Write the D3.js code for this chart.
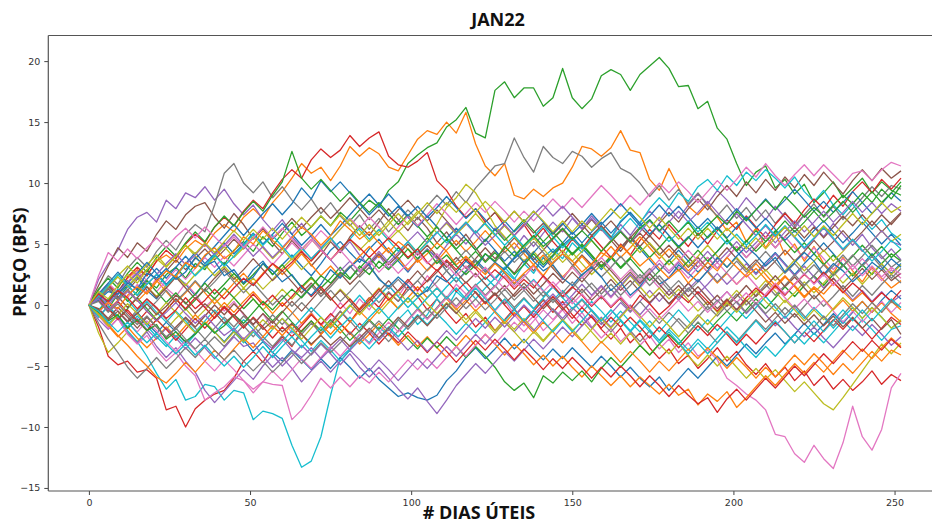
<!DOCTYPE html>
<html><head><meta charset="utf-8">
<script src="https://cdn.jsdelivr.net/npm/d3@7"></script>
<style>
html,body{margin:0;padding:0;background:#fff;}
svg{display:block;}
</style></head>
<body>
<svg id="chart" width="932" height="524"></svg>
<script>
// business days sampled every 3 days
const days = [0,3,6,9,12, 15,18,21,24,27, 30,33,36,39,42, 45,48,51,54,57, 60,63,66,69,72, 75,78,81,84,87,
 90,93,96,99,102, 105,108,111,114,117, 120,123,126,129,132, 135,138,141,144,147, 150,153,156,159,162,
 165,168,171,174,177, 180,183,186,189,192, 195,198,201,204,207, 210,213,216,219,222, 225,228,231,234,237, 240,243,246,249,252];

const xTicks = [0,50,100,150,200,250];
const yTicks = [-15,-10,-5,0,5,10,15,20];
const palette = ["#1f77b4","#ff7f0e","#2ca02c","#d62728","#9467bd","#8c564b","#e377c2","#7f7f7f","#bcbd22","#17becf"];

const run00=[0,0.7,1.4,0.6,1.5, 2.3,1.2,0.5,1.6,2.4, 1.7,0.8,1.9,2.7,3.5, 2.6,1.8,2.9,3.6,2.5, 3.3,4.1,3.2,2.4,3.4, 4.5,5.2,4.3,3.5,4.6, 5.4,4.4,3.6,2.7,3.8, 4.6,3.9,2.8,1.9,2.8, 3.7,2.9,2.1,3.0,3.9, 4.8,3.9,3.1,4.0,4.9, 5.6,4.7,3.8,2.9,3.8, 4.7,5.5,4.6,3.7,2.8, 3.6,4.5,3.6,2.7,3.5, 4.4,5.3,4.4,3.5,2.6, 3.5,4.3,3.4,2.5,3.4, 4.2,5.1,4.2,3.3,2.4, 3.3,4.2,3.3,2.6,3.4];
const run01=[0,0.8,1.5,1.1,2.2, 2.9,2.4,3.6,4.1,3.5, 4.6,5.3,4.8,5.9,6.6, 6.0,7.2,7.9,7.1,8.4, 9.3,10.4,11.6,10.8,11.3, 10.2,11.4,13.0,12.2,12.9, 12.4,11.3,11.0,12.3,13.6, 14.3,14.0,15.0,14.1,15.8, 13.2,11.4,10.6,11.6,9.0, 8.7,9.5,8.9,9.6,10.0, 11.3,13.0,12.8,12.2,12.9, 14.3,12.7,12.5,10.3,9.4, 11.2,9.6,8.1,7.4,8.3, 7.2,6.1,6.8,5.2,6.3, 4.7,5.9,4.1,5.0,3.6, 4.8,3.4,2.6,3.9,2.8, 1.9,3.1,2.2,1.4,2.0];
const run02=[0,0.6,-0.3,0.9,1.6, 0.8,2.0,1.4,2.5,3.1, 2.2,3.4,2.9,4.1,3.3, 4.5,5.2,4.4,5.6,4.8, 5.9,6.8,5.7,6.4,7.3, 6.5,7.6,6.9,7.8,8.6, 8.0,9.4,10.1,11.6,12.3, 12.9,13.3,14.6,15.2,16.2, 14.1,13.7,17.6,18.3,17.0, 17.8,17.8,16.3,17.0,19.4, 17.0,16.1,16.9,18.8,19.3, 18.9,17.6,18.9,19.6,20.3, 19.4,17.9,18.0,16.1,16.7, 14.5,13.6,11.6,9.8,10.9, 11.4,9.6,10.3,9.1,9.9, 8.4,9.2,10.1,8.8,9.6, 10.4,9.2,10.1,9.4,9.0];
const run03=[0,-1.8,-4.2,-4.9,-4.6, -5.5,-5.3,-6.0,-8.6,-8.3, -10.0,-8.5,-7.8,-7.3,-7.0, -6.0,-4.6,-3.8,-4.7,-3.5, -2.6,-3.4,-2.1,-1.3,-2.4, -1.6,-0.5,-1.4,-0.3,0.6, -0.2,1.0,0.3,1.5,0.7, -0.4,0.5,-0.6,-1.5,-0.7, -1.8,-1.0,-2.1,-1.2,-0.3, -1.4,-0.5,0.4,-0.6,0.3, -0.8,-1.7,-0.9,-2.0,-2.8, -1.9,-3.1,-2.3,-3.5,-4.4, -3.6,-4.8,-4.1,-5.2,-4.4, -3.5,-4.6,-3.8,-4.9,-5.7, -4.8,-5.9,-5.1,-6.2,-5.4, -6.6,-5.8,-6.9,-6.1,-7.0, -6.3,-5.4,-6.5,-5.7,-6.2];
const run04=[0,2.1,3.4,4.5,6.2, 7.2,7.6,6.8,8.6,7.9, 9.2,8.8,9.7,8.6,9.5, 8.3,7.4,8.2,7.0,6.1, 7.0,5.8,6.7,5.6,4.7, 5.5,4.3,5.2,4.1,3.2, 4.1,3.0,3.9,2.8,3.7, 4.6,3.8,4.9,5.8,5.0, 6.1,5.2,6.3,5.5,4.6, 5.7,4.8,5.9,6.8,6.0, 7.1,6.2,7.3,6.4,5.5, 6.6,5.7,6.8,7.7,6.9, 8.0,7.1,8.2,9.1,8.3, 9.4,8.6,7.7,8.8,7.9, 7.0,8.1,7.2,6.3,7.4, 6.5,5.6,6.7,5.8,4.9, 5.8,4.7,3.8,4.6,3.7];
const run05=[0,1.6,3.2,4.7,3.9, 5.1,4.4,5.8,6.9,6.2, 7.4,8.1,8.4,7.2,6.3, 7.5,6.6,5.4,6.3,5.1, 4.2,5.3,4.4,3.2,4.1, 5.2,4.3,5.6,6.5,5.7, 6.8,7.9,7.0,6.1,7.2, 6.3,5.1,6.0,4.9,5.8, 4.7,3.6,4.5,3.4,2.6, 3.7,2.8,3.9,3.0,2.1, 3.2,4.1,3.3,4.4,5.3, 4.4,5.5,6.4,5.6,6.7, 7.6,6.8,7.9,8.7,7.8, 8.9,9.8,8.9,10.1,9.2, 10.3,9.4,10.5,9.6,10.7, 9.8,10.9,10.0,9.1,10.2, 11.1,10.2,11.2,10.4,11.0];
const run06=[0,0.8,0.2,1.3,0.6, 1.7,1.0,2.2,1.4,0.7, 1.8,0.9,-0.2,0.6,-0.5, 0.3,-0.8,-1.6,-0.7,-1.9, -1.1,-2.3,-1.5,-0.6,-1.7, -0.9,0.2,-0.7,0.5,-0.4, 0.8,1.6,0.7,1.9,1.1, 2.4,1.5,0.6,1.7,0.9, -0.2,0.7,-0.5,0.4,-0.8, -1.7,-0.9,-2.1,-1.3,-0.4, -1.5,-0.6,-1.8,-2.7,-1.9, -3.0,-2.2,-3.3,-2.5,-3.6, -2.8,-3.9,-3.1,-4.2,-3.7, -4.5,-6.0,-6.6,-7.3,-7.8, -8.6,-10.6,-10.8,-12.2,-12.9, -11.5,-12.6,-13.4,-11.3,-8.3, -10.8,-11.9,-10.2,-6.8,-5.6];
const run07=[0,1.2,2.4,1.7,3.0, 3.9,3.1,4.4,5.3,4.5, 5.8,6.6,6.0,8.2,10.8, 11.6,10.0,9.2,10.1,8.8, 9.7,8.6,7.8,8.7,7.5, 8.4,7.3,6.5,7.4,6.2, 7.1,6.0,6.9,7.8,7.0, 8.1,9.0,8.2,9.3,8.4, 9.6,10.5,11.4,11.6,13.7, 12.1,10.9,13.0,12.1,11.6, 12.6,12.2,11.3,12.0,12.5, 11.2,10.8,10.0,8.9,9.8, 8.6,9.5,8.3,9.2,8.1, 7.3,8.2,7.1,8.0,6.9, 7.8,6.7,7.6,6.5,7.4, 8.3,7.2,8.1,7.0,7.9, 8.8,9.7,8.9,9.8,9.5];
const run08=[0,-2.3,-3.9,-3.1,-2.2, -3.0,-2.1,-1.2,-2.0,-1.1, -0.3,-1.2,-0.4,0.5,-0.3, 0.6,1.4,0.5,-0.4,0.4, 1.3,0.5,1.4,2.2,1.3, 0.4,1.3,0.5,-0.4,0.5, 1.4,0.6,-0.3,0.6,-0.2, -1.1,-0.3,0.6,-0.3,-1.2, -0.4,-1.3,-2.1,-1.2,-2.0, -1.1,-2.0,-2.9,-2.0,-1.2, -2.1,-1.3,-2.2,-3.1,-2.3, -3.2,-2.3,-3.3,-4.1,-3.2, -4.0,-3.1,-4.2,-5.0,-4.1, -5.0,-4.2,-5.1,-6.0,-5.2, -6.1,-5.3,-6.2,-7.1,-6.3, -7.2,-8.1,-8.6,-7.6,-6.5, -5.4,-4.3,-3.2,-4.0,-3.1];
const run09=[0,-0.7,-1.5,-0.9,-2.1, -3.0,-4.2,-5.6,-6.9,-6.1, -7.8,-7.5,-6.5,-6.7,-7.8, -7.0,-7.2,-9.4,-8.7,-8.9, -9.3,-11.5,-13.3,-12.8,-10.8, -7.4,-4.3,-3.6,-2.4,-3.1, -1.8,-2.5,-1.2,-0.4,-1.6, -0.8,0.5,-0.3,1.1,0.4, 1.6,2.3,1.5,2.8,2.1, 3.4,2.6,3.9,4.6,3.8, 5.1,4.3,5.6,6.4,5.5, 6.9,7.6,6.7,7.9,8.8, 8.0,9.2,8.5,9.7,10.3, 9.4,10.6,9.8,10.9,10.2, 11.1,10.4,9.6,10.5,9.3, 8.5,9.4,8.2,7.4,8.3, 7.1,6.2,7.0,5.9,5.3];
const run10=[0,-0.6,0.3,-0.5,-1.4, -0.6,-1.5,-2.3,-1.4,-2.2, -3.1,-2.3,-1.4,-2.2,-3.0, -2.1,-2.9,-3.8,-3.0,-3.9, -4.6,-3.7,-4.5,-5.3,-4.4, -5.2,-4.3,-5.1,-6.0,-5.2, -6.1,-6.8,-7.5,-7.2,-7.6, -7.8,-7.4,-6.2,-5.4,-4.3, -3.5,-4.4,-3.6,-2.7,-3.6, -2.8,-3.7,-4.5,-3.6,-4.4, -3.5,-4.3,-5.1,-4.2,-5.0, -5.9,-5.1,-6.0,-6.7,-5.9, -7.0,-6.1,-5.2,-6.0,-5.1, -4.2,-5.0,-4.1,-3.2,-4.0, -3.1,-2.3,-3.2,-2.4,-1.5, -2.4,-1.6,-0.7,-1.5,-0.6, 0.3,-0.6,0.4,1.2,0.5];
const run11=[0,-0.9,-1.7,-2.6,-1.8, -2.7,-3.5,-2.7,-1.8,-2.6, -1.7,-0.8,-1.6,-0.7,0.2, -0.6,0.3,1.1,0.2,-0.7, 0.2,-0.6,-1.5,-0.7,-1.6, -2.4,-1.5,-2.3,-3.2,-2.4, -1.5,-2.4,-3.3,-2.5,-3.4, -2.6,-3.5,-4.3,-3.4,-2.5, -3.3,-2.4,-3.2,-4.1,-3.2, -4.0,-4.9,-4.1,-5.0,-4.2, -5.1,-5.9,-5.0,-5.8,-6.6, -5.8,-6.7,-5.9,-6.6,-7.3, -6.5,-7.4,-6.9,-8.2,-7.3, -7.9,-7.1,-8.4,-7.6,-6.7, -5.8,-6.6,-5.7,-4.8,-5.6, -4.7,-5.5,-4.6,-3.7,-4.5, -3.6,-4.4,-3.5,-2.7,-3.4];
const run12=[0,0.7,-0.2,-1.1,-0.3, 0.6,-0.3,-1.2,-0.4,0.5, -0.4,0.4,1.3,0.5,1.4, 0.6,-0.3,0.5,-0.4,-1.3, -0.5,-1.4,-2.2,-1.3,-2.1, -1.2,-2.0,-2.9,-2.1,-1.2, -2.0,-1.1,-1.9,-2.8,-3.6, -2.7,-3.5,-2.6,-3.4,-4.3, -3.4,-4.2,-5.1,-6.3,-7.0, -6.4,-7.6,-5.8,-6.4,-5.5, -6.2,-5.4,-6.3,-5.2,-4.3, -5.1,-4.2,-3.3,-4.1,-3.2, -2.4,-3.2,-2.3,-1.4,-2.2, -1.3,-0.5,-1.3,-0.4,0.5, -0.3,0.6,1.5,0.7,1.6, 2.4,1.6,2.5,3.3,2.4, 3.3,2.5,3.4,4.2,3.6];
const run13=[0,0.9,1.7,1.0,2.3, 3.1,2.4,3.6,4.5,3.8, 5.0,5.8,5.1,6.4,7.2, 6.5,7.7,8.6,7.9,9.2, 10.3,11.1,10.4,11.9,12.8, 12.1,12.7,13.9,13.0,13.7, 14.2,12.2,11.5,11.3,11.8, 12.5,10.2,9.4,8.1,7.2, 7.9,6.8,7.6,6.5,5.7, 6.6,5.4,6.3,5.2,4.3, 5.4,4.6,5.7,4.8,3.9, 5.0,4.1,5.3,6.2,5.4, 6.6,5.7,4.8,5.9,5.0, 6.1,7.0,6.2,7.3,6.4, 5.5,6.6,7.5,6.7,7.8, 8.7,7.9,9.0,8.1,9.3, 10.1,9.2,10.3,9.5,10.4];
const run14=[0,-1.2,-2.0,-1.1,-2.3, -3.1,-2.2,-3.4,-4.3,-3.5, -4.6,-5.5,-7.0,-8.0,-7.1, -6.2,-5.3,-6.1,-5.0,-4.1, -5.0,-4.2,-3.3,-4.1,-3.2, -4.0,-4.9,-4.0,-5.1,-5.9, -5.1,-6.0,-6.9,-7.7,-6.8, -7.9,-8.9,-7.8,-6.6,-5.7, -4.8,-5.6,-4.7,-3.8,-4.6, -3.7,-2.8,-3.6,-2.7,-1.8, -2.6,-1.7,-0.8,-1.6,-0.7, 0.2,-0.6,0.3,1.2,0.3, 1.2,0.4,1.3,2.1,1.2, 0.3,1.1,0.2,-0.7,0.1, -0.8,-1.7,-0.9,-1.8,-2.6, -1.8,-2.7,-3.5,-2.6,-1.7, -2.5,-1.6,-2.4,-3.3,-2.6];
const run15=[0,0.5,1.3,0.4,1.2, 2.1,2.9,2.0,2.8,3.7, 2.9,3.8,4.6,3.7,4.5, 5.4,4.6,5.5,6.3,5.4, 6.2,7.1,6.3,7.2,8.0, 7.1,7.9,8.8,7.9,7.0, 7.8,6.9,7.8,8.6,7.7, 6.9,7.8,6.9,6.0,6.8, 5.9,6.8,7.6,6.8,7.7, 6.8,5.9,6.7,5.8,6.6, 7.5,6.6,5.7,6.5,5.6, 4.7,5.6,4.8,5.7,4.8, 3.9,4.8,3.9,3.1,3.9, 3.0,3.9,4.8,3.9,4.7, 5.6,4.7,5.6,6.4,5.5, 6.4,5.5,6.4,7.3,6.5, 7.4,6.5,7.4,6.6,7.5];
const run16=[0,-0.8,-1.9,-1.1,-2.4, -3.2,-2.5,-3.7,-4.6,-3.9, -5.0,-5.8,-7.8,-7.2,-6.7, -5.9,-6.2,-6.9,-6.3,-6.5, -6.6,-9.4,-8.6,-7.4,-6.0, -6.8,-5.9,-6.7,-5.8,-6.4, -5.5,-6.3,-5.4,-4.5,-5.3, -4.4,-5.2,-4.3,-3.4,-4.2, -3.3,-2.4,-3.2,-2.3,-1.4, -2.2,-1.3,-0.4,-1.2,-0.3, 0.6,-0.2,0.7,1.5,0.6, 1.5,0.6,1.4,2.3,1.4, 2.3,3.1,2.2,3.1,3.9, 3.0,3.9,4.8,3.9,4.8, 5.6,4.7,5.6,4.7,3.8, 4.7,3.8,2.9,3.8,2.9, 3.8,2.9,2.0,2.9,2.2];
const run17=[0,-1.5,-2.8,-3.9,-5.1, -6.0,-5.2,-4.3,-5.2,-4.4, -3.5,-4.3,-3.4,-2.6,-3.4, -2.5,-1.7,-2.6,-1.7,-0.8, -1.6,-0.7,0.2,-0.6,0.3, 1.2,0.3,1.1,2.0,1.1, 0.2,1.1,0.3,1.2,2.0, 1.1,1.9,2.8,1.9,2.7, 3.6,2.7,3.5,2.6,1.7, 2.5,1.6,0.7,1.5,0.6, 1.4,2.3,1.4,0.5,1.3, 0.4,-0.5,0.3,-0.6,-1.5, -0.6,-1.4,-2.3,-1.4,-2.2, -3.1,-2.2,-3.0,-2.1,-1.2, -2.0,-1.1,-0.2,-1.0,-0.1, 0.8,-0.1,0.7,1.6,0.7, 1.6,0.8,1.7,2.5,1.8];
const run18=[0,0.6,1.5,2.3,1.5, 2.4,1.5,0.7,1.6,2.4, 1.6,2.5,3.3,2.4,3.2, 2.3,1.4,2.2,1.3,2.1, 3.0,3.8,2.9,3.7,4.6, 3.7,4.5,5.4,4.5,5.3, 6.2,5.3,6.1,5.2,4.3, 5.2,6.6,8.0,8.8,9.9, 9.2,7.9,6.5,5.6,4.5, 3.6,4.4,3.5,4.4,3.5, 4.3,3.4,2.5,3.3,2.4, 1.5,2.4,1.5,0.6,1.4, 0.5,1.3,0.4,-0.5,0.3, -0.6,0.3,1.2,0.3,1.1, 2.0,1.1,0.2,1.0,1.9, 1.0,1.8,2.7,1.8,2.6, 1.7,2.6,3.4,2.5,3.3];
const run19=[0,-0.4,0.5,1.3,0.4, -0.5,0.3,-0.6,-1.4,-0.5, -1.3,-2.2,-1.3,-0.4,-1.2, -2.1,-1.2,-2.0,-2.9,-2.0, -1.1,-2.0,-1.1,-0.2,-1.0, -1.9,-1.0,-0.1,0.8,-0.1, 0.7,1.6,0.7,-0.2,0.6, 1.5,0.6,1.5,2.3,1.4, 0.5,1.4,2.2,3.1,2.2, 1.3,2.1,1.2,0.4,1.2, 0.3,-0.6,0.3,-0.5,-1.4, -0.5,-1.4,-2.2,-1.3,-2.2, -1.3,-0.4,-1.3,-2.1,-1.2, -2.1,-1.2,-0.3,-1.1,-0.2, 0.7,-0.2,-1.1,-0.2,-1.1, -0.2,-1.0,-1.9,-1.0,-0.2, -1.1,-0.2,-1.0,-1.9,-1.3];
const run20=[0,1.0,0.2,1.1,2.0, 1.2,2.1,3.0,2.2,3.1, 4.0,3.1,4.0,4.8,5.7, 6.6,5.7,6.6,7.5,8.3, 7.4,8.3,9.6,8.7,10.2, 9.3,10.1,9.2,8.3,9.1, 8.2,7.3,8.1,7.2,6.4, 7.3,6.4,5.5,6.3,5.4, 4.5,5.4,4.5,3.6,4.4, 3.5,4.3,5.2,4.3,5.1, 6.0,5.1,6.0,6.8,5.9, 6.8,7.6,6.7,5.8,6.6, 5.7,4.8,5.6,4.7,5.6, 6.4,5.5,6.4,7.2,6.3, 7.1,6.2,5.3,6.1,5.2, 6.1,6.9,6.0,5.1,5.9, 6.8,5.9,5.0,5.8,4.9];
const run21=[0,0.5,-0.4,0.4,1.2, 0.3,1.1,2.0,1.1,0.2, 1.0,1.9,1.0,0.1,0.9, 1.8,2.6,1.7,2.6,3.4, 2.5,3.3,4.2,3.3,2.4, 3.2,2.3,3.1,4.0,4.8, 3.9,4.7,3.8,2.9,3.7, 2.8,3.6,4.5,5.3,4.4, 5.2,6.1,5.2,4.3,5.1, 4.2,3.3,4.1,3.2,2.3, 3.1,4.0,3.1,3.9,4.8, 3.9,4.7,5.6,4.7,3.8, 4.6,3.7,2.8,3.6,2.7, 1.8,2.6,1.7,2.5,3.4, 2.5,1.6,2.4,1.5,0.6, 1.4,0.5,-0.4,0.4,-0.5, 0.3,-0.6,0.2,-0.7,-1.4];
const run22=[0,1.3,2.2,1.4,2.6, 3.5,2.7,3.9,4.8,4.0, 5.1,6.0,5.2,6.4,7.3, 6.5,7.6,8.5,7.7,9.0, 10.1,12.6,10.4,9.5,10.3, 9.4,8.5,9.3,8.4,7.6, 8.4,7.5,6.6,7.4,6.5, 5.6,6.4,5.5,4.6,5.4, 4.5,5.3,6.2,5.3,6.1, 7.0,6.1,5.2,6.0,5.1, 4.2,5.0,4.1,3.2,4.0, 3.1,3.9,4.8,3.9,4.7, 5.6,4.7,5.5,6.4,5.5, 6.3,5.4,4.5,5.3,4.4, 5.2,6.1,5.2,4.3,5.1, 4.2,3.3,4.1,3.2,4.0, 4.9,4.0,4.8,3.9,4.6];
const run23=[0,0.4,-0.5,0.3,-0.6, -1.4,-0.5,-1.3,-0.4,0.5, -0.3,0.6,-0.2,-1.1,-0.2, -1.0,-1.9,-1.0,-1.8,-2.7, -1.8,-2.6,-1.7,-0.8,-1.6, -0.7,-1.5,-2.4,-1.5,-2.3, -3.2,-2.3,-3.1,-2.2,-3.0, -3.9,-3.0,-3.8,-4.7,-3.8, -2.9,-3.7,-2.8,-3.6,-4.5, -3.6,-4.4,-5.3,-4.4,-5.2, -4.3,-5.1,-6.0,-5.1,-5.9, -5.0,-5.8,-6.7,-5.8,-6.6, -7.5,-6.6,-7.4,-8.1,-7.6, -8.8,-7.7,-6.9,-7.8,-6.9, -6.0,-6.8,-5.9,-5.0,-5.8, -4.9,-4.0,-4.8,-3.9,-3.0, -3.8,-2.9,-3.7,-2.8,-3.5];
const run24=[0,-0.9,-0.1,-1.0,-1.9, -1.1,-2.0,-2.8,-1.9,-2.7, -3.6,-2.7,-3.5,-4.4,-3.5, -2.6,-3.4,-3.1,-4.2,-5.1, -4.3,-5.2,-6.3,-5.4,-4.6, -5.5,-4.6,-3.7,-4.5,-5.4, -4.5,-5.3,-6.2,-5.3,-4.4, -5.2,-4.3,-3.4,-4.2,-3.3, -2.4,-3.2,-2.3,-1.4,-2.2, -1.3,-2.1,-1.2,-0.3,-1.1, -0.2,-1.0,-1.9,-1.0,-1.8, -0.9,0.0,-0.8,0.1,1.0, 0.1,0.9,1.8,0.9,1.7, 2.6,1.7,2.5,3.4,2.5, 3.3,4.2,3.3,2.4,3.2, 2.3,1.4,2.2,1.3,0.4, 1.2,0.3,1.1,0.2,0.8];
const run25=[0,0.8,1.6,0.7,-0.2, 0.6,1.5,0.6,1.4,2.3, 1.4,0.5,1.3,2.2,3.0, 2.1,2.9,3.8,2.9,2.0, 2.8,1.9,1.0,1.8,0.9, 1.7,2.6,1.7,2.5,3.4, 4.2,3.3,4.1,5.0,4.1, 4.9,4.0,3.1,3.9,3.0, 3.8,4.7,3.8,4.6,5.5, 4.6,3.7,4.5,5.4,6.2, 5.3,6.1,7.0,6.1,6.9, 6.0,5.1,5.9,5.0,4.1, 4.9,4.0,3.1,3.9,3.0, 3.8,4.7,3.8,2.9,3.7, 2.8,3.6,4.5,3.6,4.4, 5.3,4.4,5.2,6.1,5.2, 6.0,6.9,6.0,6.8,7.6];
const run26=[0,0.9,1.8,1.0,1.9, 2.8,2.0,1.1,2.0,2.9, 2.1,3.0,3.9,3.1,4.0, 3.2,4.1,5.0,4.2,3.3, 4.2,5.1,4.3,5.2,6.1, 5.3,6.2,7.1,6.3,7.2, 6.4,5.5,6.4,7.3,6.5, 7.4,8.3,7.5,6.6,7.5, 8.4,7.6,8.5,7.7,6.8, 7.7,6.9,7.8,8.7,7.9, 8.8,8.0,8.9,9.8,9.0, 8.1,9.0,8.2,9.1,10.0, 9.2,10.1,9.3,8.4,9.3, 10.2,9.4,10.3,11.3,10.5, 11.6,10.6,9.8,10.7,11.5, 10.6,11.5,10.7,9.9,10.8, 11.0,10.2,11.1,11.7,11.4];
const run27=[0,-0.6,0.3,-0.5,-1.3, -0.4,0.5,-0.3,-1.2,-2.0, -1.1,-1.9,-2.8,-1.9,-1.0, -1.8,-0.9,-1.7,-2.6,-3.4, -2.5,-3.3,-2.4,-1.5,-2.3, -1.4,-0.5,-1.3,-2.2,-1.3, -2.1,-3.0,-2.1,-1.2,-0.3, -1.1,-0.2,0.7,-0.1,0.8, 1.7,0.8,1.6,0.7,-0.2, 0.6,-0.3,0.5,-0.4,-1.3, -0.4,0.4,-0.5,-1.4,-2.2, -1.3,-2.1,-3.0,-2.1,-2.9, -2.0,-1.1,-1.9,-1.0,-0.1, -0.9,0.0,0.9,0.0,0.8, 1.7,0.8,1.6,2.5,1.6, 2.4,3.3,2.4,3.2,4.1, 3.2,4.0,3.1,2.2,3.0];
const run28=[0,0.7,1.5,2.4,3.2, 2.4,3.3,4.1,3.2,4.0, 4.9,4.0,3.1,3.9,4.8, 3.9,4.7,5.6,4.7,3.8, 4.6,3.7,4.5,5.4,4.5, 5.3,6.2,7.0,6.1,5.2, 6.0,6.9,6.0,6.8,7.7, 6.8,5.9,6.7,5.8,6.6, 7.5,6.6,5.7,6.5,5.6, 4.7,5.5,4.6,3.7,4.5, 3.6,4.4,5.3,4.4,5.2, 6.1,5.2,4.3,5.1,4.2, 3.3,4.1,3.2,4.0,4.9, 4.0,3.1,3.9,3.0,2.1, 2.9,2.0,2.8,3.7,2.8, 3.6,4.5,3.6,4.4,5.3, 4.4,5.2,6.1,5.2,5.8];
const run29=[0,-1.0,-0.1,-0.9,-1.8, -0.9,-1.7,-2.6,-3.4,-2.5, -3.3,-2.4,-1.5,-2.3,-1.4, -2.2,-3.1,-2.2,-3.0,-3.9, -3.0,-2.1,-2.9,-3.8,-2.9, -3.7,-4.6,-3.7,-2.8,-3.6, -2.7,-1.8,-2.6,-1.7,-0.8, -1.6,-0.7,-1.5,-2.4,-1.5, -2.3,-1.4,-0.5,-1.3,-0.4, 0.5,-0.3,0.6,1.5,0.6, -0.3,0.5,-0.4,-1.3,-0.4, -1.2,-2.1,-1.2,-2.0,-2.9, -2.0,-2.8,-3.7,-2.8,-3.6, -2.7,-1.8,-2.6,-3.5,-4.3, -3.4,-4.2,-3.3,-2.4,-3.2, -2.3,-3.1,-2.2,-1.3,-2.1, -1.2,-2.0,-2.9,-2.0,-1.7];
const run30=[0,0.9,1.8,2.7,1.8, 2.6,3.5,2.6,1.7,2.5, 3.4,4.3,3.4,4.2,5.1, 4.2,5.0,5.9,5.0,5.8, 6.7,5.8,4.9,5.7,6.6, 5.7,6.5,7.4,8.3,7.4, 8.2,9.1,8.2,7.3,8.1, 7.2,8.0,8.9,8.0,7.1, 7.9,7.0,6.1,6.9,6.0, 6.8,7.7,6.8,5.9,6.7, 5.8,6.6,7.5,6.6,7.4, 8.3,7.4,6.5,7.3,8.2, 7.3,8.1,7.2,6.3,7.1, 6.2,7.0,7.9,7.0,7.8, 8.7,7.8,8.6,9.5,8.6, 7.7,8.5,7.6,8.4,9.3, 8.4,7.5,8.3,9.2,8.5];
const run31=[0,-0.7,-1.6,-2.5,-3.3, -4.2,-5.0,-5.9,-6.4,-5.6, -4.7,-5.5,-4.6,-3.7,-4.5, -3.6,-2.7,-3.5,-2.6,-1.7, -2.5,-1.6,-2.4,-3.3,-2.4, -1.5,-2.3,-1.4,-0.5,-1.3, -0.4,0.5,-0.3,0.6,1.5, 0.6,1.4,0.5,-0.4,0.4, -0.5,0.3,-0.6,-1.5,-0.6, -1.4,-2.3,-1.4,-2.2,-3.1, -2.2,-3.0,-3.9,-3.0,-3.8, -4.7,-3.8,-4.6,-5.5,-4.6, -5.4,-4.5,-3.6,-4.4,-3.5, -4.3,-5.2,-4.3,-5.1,-6.0, -5.1,-5.9,-5.0,-4.1,-4.9, -4.0,-4.8,-5.7,-4.8,-5.6, -4.7,-3.8,-4.6,-3.7,-4.1];
const run32=[0,-0.5,0.4,1.2,0.3, 1.1,2.0,1.1,0.2,1.0, 0.1,0.9,1.8,0.9,1.7, 2.6,1.7,2.5,3.4,2.5, 3.3,2.4,1.5,2.3,1.4, 2.2,3.1,2.2,3.0,3.9, 3.0,3.8,4.7,3.8,4.6, 5.5,4.6,5.4,4.5,3.6, 4.4,3.5,4.3,3.4,2.5, 3.3,4.2,3.3,4.1,5.0, 4.1,4.9,4.0,3.1,3.9, 3.0,3.8,2.9,2.0,2.8, 3.7,2.8,3.6,4.5,3.6, 4.4,5.3,4.4,5.2,6.1, 5.2,6.0,6.9,6.0,6.8, 7.7,6.8,7.6,8.5,7.6, 8.4,9.3,8.4,9.2,10.1];
const run33=[0,0.6,-0.3,-1.2,-0.4, -1.3,-2.1,-1.2,-2.0,-2.9, -2.0,-1.1,-1.9,-1.0,-0.1, -0.9,0.0,0.9,0.0,0.8, -0.1,0.7,1.6,0.7,1.5, 0.6,-0.3,0.5,-0.4,0.4, 1.3,0.4,1.2,2.1,1.2, 2.0,2.9,2.0,1.1,1.9, 1.0,0.1,0.9,0.0,-0.9, -0.1,-1.0,-0.1,0.7,-0.2, -1.1,-0.2,-1.0,-1.9,-1.0, -1.8,-1.0,-1.8,-2.7,-1.8, -2.6,-3.5,-2.6,-1.7,-2.5, -1.6,-2.4,-3.3,-2.4,-3.2, -2.3,-1.4,-2.2,-3.1,-2.2, -3.0,-2.1,-1.2,-2.0,-1.1, -1.9,-2.8,-1.9,-1.0,-1.6];
const run34=[0,0.8,0.0,0.9,1.8, 2.6,1.7,2.5,3.4,4.2, 3.3,4.1,5.0,4.1,4.9, 5.8,4.9,4.0,4.8,3.9, 4.7,5.6,4.7,3.8,4.6, 3.7,2.8,3.6,2.7,3.5, 4.4,3.5,4.3,5.2,6.0, 5.1,5.9,6.8,5.9,6.7, 5.8,4.9,5.7,6.6,5.7, 6.5,7.4,8.2,7.3,8.1, 7.2,6.3,7.1,6.2,5.3, 6.1,5.2,6.0,6.9,6.0, 6.8,7.7,6.8,7.6,8.5, 7.6,6.7,7.5,6.6,5.7, 6.5,5.6,6.4,5.5,4.6, 5.4,6.3,5.4,4.5,5.3, 4.4,5.2,6.1,5.2,4.9];
const run35=[0,-0.3,-1.1,-0.2,-1.0, -1.9,-1.0,-1.8,-2.7,-1.8, -1.0,-1.8,-0.9,0.0,-0.8, 0.1,-0.7,-1.6,-0.7,-1.5, -0.6,0.3,-0.5,0.4,1.3, 0.4,1.2,0.3,-0.6,0.2, 1.1,2.0,1.1,1.9,2.8, 1.9,2.7,3.6,2.7,1.8, 2.6,1.7,0.8,1.6,0.7, 1.5,0.6,-0.3,0.5,-0.4, 0.4,1.3,0.4,1.2,2.1, 1.2,2.0,1.1,0.2,1.0, 0.1,0.9,1.8,0.9,0.0, 0.8,-0.1,0.7,1.6,0.7, 1.5,2.4,1.5,2.3,1.4, 0.5,1.3,2.2,1.3,2.1, 3.0,2.1,2.9,2.0,2.6];
const run36=[0,-0.6,0.3,-0.5,-1.4, -2.2,-1.3,-2.1,-3.0,-3.8, -2.9,-3.7,-4.6,-5.4,-4.5, -5.3,-6.2,-7.2,-6.3,-5.4, -6.2,-5.3,-4.4,-5.2,-4.3, -3.4,-4.2,-3.3,-2.4,-3.2, -2.3,-1.4,-2.2,-1.3,-0.4, -1.2,-0.3,0.6,-0.2,0.7, 1.6,0.7,1.5,2.4,1.5, 2.3,3.2,2.3,1.4,2.2, 3.1,2.2,3.0,3.9,3.0, 2.1,2.9,2.0,2.8,3.7, 2.8,3.6,4.5,3.6,2.7, 3.5,2.6,1.7,2.5,1.6, 0.7,1.5,0.6,-0.3,0.5, -0.4,0.4,-0.5,-1.4,-0.5, -1.4,-0.5,0.3,-0.6,0.2];
const run37=[0,0.5,1.4,0.5,1.3, 0.4,-0.5,0.3,1.2,0.3, 1.1,2.0,1.1,1.9,2.8, 1.9,1.0,1.8,0.9,0.0, 0.8,-0.1,0.7,1.6,0.7, 1.5,2.4,3.2,2.3,3.1, 2.2,1.3,2.1,1.2,2.0, 2.9,3.7,2.8,3.6,4.5, 3.6,2.7,3.5,4.4,3.5, 4.3,5.2,4.3,3.4,4.2, 3.3,2.4,3.2,2.3,3.1, 4.0,3.1,2.2,3.0,2.1, 1.2,2.0,1.1,1.9,2.8, 1.9,2.7,3.6,2.7,3.5, 4.4,3.5,2.6,3.4,2.5, 3.3,2.4,3.2,4.1,3.2, 4.0,4.9,4.0,3.1,3.7];
const run38=[0,-0.8,-1.7,-0.8,0.1, -0.7,-1.6,-0.7,0.2,-0.6, -1.5,-2.3,-1.4,-2.2,-3.1, -2.2,-3.0,-2.1,-1.2,-2.0, -1.1,-1.9,-2.8,-1.9,-1.0, -1.8,-0.9,0.0,-0.8,0.1, -0.7,0.2,1.1,0.2,1.0, 0.1,-0.7,0.2,-0.6,-1.5, -0.6,-1.4,-2.3,-1.4,-2.2, -3.1,-2.2,-3.0,-2.1,-1.2, -2.0,-2.9,-2.0,-1.1,-1.9, -1.0,-0.1,-0.9,-1.8,-0.9, -1.7,-2.6,-1.7,-0.8,-1.6, -0.7,0.2,-0.6,0.3,1.2, 0.3,-0.5,0.4,-0.4,-1.3, -0.4,-1.2,-0.3,0.6,-0.2, -1.1,-0.2,-1.0,-1.9,-1.2];
const run39=[0,0.7,1.6,2.5,1.6, 0.8,1.7,2.5,1.6,2.4, 3.3,2.4,3.2,4.1,3.2, 4.0,4.9,5.8,4.9,5.7, 4.8,3.9,4.7,3.8,4.6, 5.5,4.6,5.4,6.3,5.4, 6.2,5.3,4.4,5.2,4.3, 5.1,6.0,5.1,5.9,6.8, 5.9,6.7,5.8,4.9,5.7, 4.8,5.6,6.5,5.6,4.7, 5.5,4.6,5.4,6.3,5.4, 6.2,7.1,6.2,7.0,6.1, 5.2,6.0,6.9,6.0,6.8, 5.9,5.0,5.8,4.9,5.7, 6.6,5.7,6.5,5.6,4.7, 5.5,6.4,5.5,4.6,5.4, 4.5,3.6,4.4,5.3,4.6];
const run40=[0,0.4,1.1,0.9,1.8, 1.3,2.6,2.2,3.0,2.1, 2.7,3.9,3.2,3.6,2.4, 2.9,1.8,2.3,3.4,2.8, 1.9,2.5,1.4,0.8,1.7, 2.9,2.2,3.1,3.8,3.3, 2.1,1.5,2.3,1.6,0.7, 1.2,2.4,1.9,2.7,3.6, 3.0,4.2,3.5,2.9,3.8, 4.5,3.6,2.8,3.3,2.2, 1.6,2.5,3.1,2.3,1.2, 1.9,0.8,1.5,2.6,1.7, 2.2,3.3,2.6,1.9,2.8, 3.9,3.1,4.0,4.8,4.1, 3.2,3.9,2.7,3.5,4.3, 3.6,2.5,3.4,2.8,1.9, 2.6,3.5,2.9,3.8,3.1];
const run41=[0,-0.5,0.2,-0.3,0.8, 1.5,0.9,1.9,2.8,2.3, 3.5,3.0,4.1,4.7,3.8, 4.4,5.6,5.0,6.1,5.3, 4.6,5.5,6.4,5.8,4.9, 5.7,6.9,6.2,5.4,6.0, 5.1,4.3,5.2,4.6,3.5, 4.2,5.1,4.4,3.3,4.0, 3.2,2.5,3.4,2.7,1.8, 2.6,3.3,2.4,3.5,4.2, 3.6,2.7,3.4,4.3,3.8, 4.9,4.1,3.2,3.9,3.0, 2.2,2.9,1.8,2.6,3.5, 2.8,3.9,3.1,2.3,3.0, 2.1,1.4,2.3,1.6,0.7, 1.5,0.9,1.8,1.1,0.3, 1.0,0.2,-0.6,0.3,-0.4];
const run42=[0,-0.6,-1.3,-0.8,-1.9, -1.2,-2.1,-1.6,-2.8,-2.2, -3.0,-2.4,-1.5,-2.3,-1.7, -0.8,-1.5,-0.6,0.3,-0.4, 0.5,1.3,0.6,1.5,2.4, 1.8,2.7,2.1,3.2,2.5, 3.6,2.9,3.7,4.6,3.8, 4.5,3.4,4.1,3.2,2.5, 3.3,4.2,3.6,4.8,4.0, 4.9,5.7,4.8,5.5,6.3, 5.4,6.1,5.3,4.4,5.2, 6.0,5.2,6.3,7.0,6.1, 6.9,6.0,6.8,5.7,6.5, 7.3,6.6,7.7,6.9,7.8, 8.6,7.8,8.9,8.1,7.2, 8.0,7.3,8.2,9.0,8.3, 9.2,8.4,9.5,8.7,9.8];
const run43=[0,0.9,0.3,1.2,0.6, -0.3,0.5,-0.2,-1.1,-0.4, 0.6,-0.3,0.4,1.3,0.5, 1.4,2.2,1.6,2.5,3.4, 2.8,3.5,4.4,3.6,4.5, 3.7,4.6,5.4,4.7,3.9, 4.7,5.5,4.8,3.9,4.6, 3.5,2.8,3.7,2.9,3.8, 3.0,2.1,2.9,2.2,1.3, 2.1,1.4,2.4,1.6,0.7, 1.5,0.8,-0.1,0.7,-0.2, 0.6,-0.3,0.8,0.1,-0.8, -0.1,0.9,0.2,1.1,0.3, -0.5,0.4,-0.4,0.6,1.4, 0.7,1.6,0.8,1.7,2.5, 1.8,2.7,1.9,1.0,1.8, 1.1,0.2,1.0,0.3,1.2];
const run44=[0,0.5,-0.4,0.3,1.1, 0.4,-0.5,-1.3,-0.6,0.2, -0.7,-1.5,-0.8,-1.7,-2.5, -1.9,-2.8,-2.0,-2.9,-3.6, -2.8,-3.7,-4.3,-3.5,-4.4, -3.6,-2.8,-3.7,-2.9,-2.1, -2.9,-2.0,-2.8,-3.7,-2.9, -3.8,-3.0,-2.1,-2.9,-2.0, -1.1,-1.9,-1.0,-1.8,-0.9, 0.0,-0.8,0.1,0.9,0.0, 0.8,1.7,0.8,1.6,0.7, 1.6,2.5,1.7,2.6,3.4, 2.6,3.5,2.6,3.5,4.4, 3.5,4.3,5.2,4.3,5.1, 6.0,5.1,6.0,6.9,6.0, 6.8,7.7,6.8,7.6,8.5, 7.6,8.4,7.5,8.3,7.7];
const run45=[0,-0.4,-1.2,-0.5,-1.4, -0.7,0.1,-0.8,-0.1,0.8, 0.2,-0.7,0.1,-0.6,-1.5, -0.8,-1.7,-1.1,-2.0,-1.3, -2.2,-1.5,-2.4,-3.2,-2.5, -3.3,-2.6,-3.4,-2.7,-1.9, -2.7,-1.9,-1.0,-1.8,-0.9, -1.7,-0.8,0.1,-0.7,0.2, 1.1,0.2,1.0,0.1,0.9, 1.8,0.9,1.7,2.6,1.8, 2.7,1.9,2.8,3.6,2.8, 1.9,2.7,1.8,2.6,1.7, 0.8,1.6,0.7,1.5,0.6, -0.3,0.5,-0.4,0.4,-0.5, -1.4,-0.6,-1.5,-0.7,-1.6, -0.8,-1.7,-0.9,-1.8,-1.0, -1.9,-1.1,-2.0,-1.2,-2.4];
const run46=[0,2.4,4.3,3.6,4.6, 3.8,4.7,5.5,4.7,5.6, 6.3,5.5,6.4,5.6,4.8, 5.6,4.7,5.5,6.4,5.5, 6.3,5.4,4.6,5.4,4.5, 3.7,4.5,3.6,2.8,3.6, 2.7,3.5,2.6,3.4,4.3, 3.4,4.2,3.3,2.4,3.2, 2.3,3.1,2.2,1.3,2.1, 1.2,2.0,1.1,1.9,1.0, 0.1,0.9,0.0,0.8,-0.1, 0.7,-0.2,-1.1,-0.3,-1.2, -0.4,0.4,-0.5,0.3,-0.6, 0.2,1.1,0.2,1.0,0.1, 0.9,1.8,0.9,1.7,2.6, 1.7,2.5,1.6,2.4,3.3, 2.4,3.2,2.3,3.1,2.5];
const run47=[0,0.3,-0.6,0.1,-0.8, -1.6,-0.9,-1.8,-2.6,-1.9, -2.8,-3.6,-2.8,-3.7,-4.5, -3.7,-4.6,-5.4,-4.6,-5.5, -4.7,-3.9,-4.8,-4.0,-3.1, -3.9,-3.1,-2.2,-3.0,-2.1, -1.3,-2.1,-1.2,-2.0,-1.1, -0.3,-1.1,-0.2,0.6,-0.3, 0.5,-0.4,0.4,1.3,0.4, 1.2,0.3,1.1,0.2,1.0, 1.9,1.0,1.8,0.9,1.7, 0.8,1.6,2.5,1.6,2.4, 1.5,0.6,1.4,0.5,-0.4, 0.4,-0.5,0.3,-0.6,0.2, -0.7,0.1,-0.8,0.0,-0.9, -1.8,-0.9,-1.7,-0.8,0.1, -0.7,0.2,-0.6,0.3,-0.2];
const run48=[0,1.1,0.5,1.6,2.5, 1.8,2.9,3.8,3.1,4.0, 4.9,4.2,5.1,4.3,5.2, 6.1,5.3,6.2,5.4,6.3, 5.4,6.3,7.2,6.4,7.3, 6.5,7.4,6.6,5.7,6.6, 5.7,6.6,7.5,6.6,7.5, 8.4,7.5,8.4,7.6,8.5, 7.6,8.5,7.7,6.8,7.7, 6.8,7.7,6.9,6.0,6.9, 6.0,6.9,6.1,7.0,7.9, 7.1,8.0,7.2,6.3,7.2, 6.3,5.4,6.3,5.4,6.3, 5.4,6.3,5.5,4.6,5.5, 4.6,5.5,6.4,5.6,6.5, 5.6,6.5,5.7,6.6,7.5, 6.6,7.5,8.4,7.6,8.1];
const run49=[0,-0.5,-1.4,-2.2,-1.4, -2.3,-3.1,-2.3,-3.2,-4.0, -3.2,-4.1,-3.3,-4.2,-5.0, -4.2,-5.1,-4.3,-3.4,-4.3, -3.4,-2.6,-3.5,-2.6,-1.8, -2.7,-1.8,-1.0,-1.9,-1.0, -0.2,-1.1,-0.2,0.6,-0.3, 0.6,1.4,0.5,1.4,0.5, 1.4,0.5,-0.4,0.5,-0.4, -1.3,-0.4,-1.3,-2.2,-1.3, -2.2,-1.3,-0.4,-1.3,-0.4, -1.3,-2.2,-1.3,-2.2,-3.1, -2.2,-3.1,-4.0,-3.1,-4.0, -3.1,-2.2,-3.1,-2.2,-1.3, -2.2,-1.3,-2.2,-3.1,-2.2, -1.3,-2.2,-1.3,-0.4,-1.3, -0.4,-1.3,-0.4,0.5,-0.2];

const runs = [run00,run01,run02,run03,run04,run05,run06,run07,run08,run09,
              run10,run11,run12,run13,run14,run15,run16,run17,run18,run19,
              run20,run21,run22,run23,run24,run25,run26,run27,run28,run29,
              run30,run31,run32,run33,run34,run35,run36,run37,run38,run39,
              run40,run41,run42,run43,run44,run45,run46,run47,run48,run49];

const plot = {left: 48.3, right: 941.6, top: 35.5, bottom: 491};
const svg = d3.select("#chart");

const x = d3.scaleLinear().domain([-12.6, 264.6]).range([plot.left, plot.right]);
const y = d3.scaleLinear().domain([-15.25, 22.1]).range([plot.bottom, plot.top]);

svg.append("defs").append("clipPath").attr("id","clip")
  .append("rect").attr("x",plot.left).attr("y",plot.top)
  .attr("width",plot.right-plot.left).attr("height",plot.bottom-plot.top);

const line = d3.line().x((d,i)=>x(days[i])).y(d=>y(d));
const g = svg.append("g").attr("clip-path","url(#clip)");
runs.forEach((r,k)=>{
  g.append("path").datum(r.slice(0, days.length))
    .attr("fill","none")
    .attr("stroke", palette[k % 10])
    .attr("stroke-width",1.3)
    .attr("stroke-linejoin","round")
    .attr("d", line);
});

// axes
const xAxis = d3.axisBottom(x).tickValues(xTicks).tickSize(4).tickPadding(4).tickFormat(d3.format("d"));
const yAxis = d3.axisLeft(y).tickValues(yTicks).tickSize(4).tickPadding(4).tickFormat(d=> d<0 ? "\u2212"+Math.abs(d) : d);
const gx = svg.append("g").attr("transform",`translate(0,${plot.bottom})`).call(xAxis);
const gy = svg.append("g").attr("transform",`translate(${plot.left},0)`).call(yAxis);
[gx,gy].forEach(a=>{
  a.select(".domain").remove();
  a.selectAll(".tick line").attr("stroke","#444").attr("stroke-width",1);
  a.selectAll(".tick text").attr("fill","#333").style("font-family","'DejaVu Sans', sans-serif").style("font-size","9.5px");
});

// spines (left, top, bottom)
const spine = svg.append("g").attr("stroke","#555").attr("stroke-width",1.2).attr("fill","none");
spine.append("line").attr("x1",plot.left).attr("x2",plot.left).attr("y1",plot.top).attr("y2",plot.bottom);
spine.append("line").attr("x1",plot.left).attr("x2",plot.right).attr("y1",plot.top).attr("y2",plot.top);
spine.append("line").attr("x1",plot.left).attr("x2",plot.right).attr("y1",plot.bottom).attr("y2",plot.bottom);

// titles
svg.append("text").attr("x",498).attr("y",26).attr("text-anchor","middle")
  .style("font-family","'Open Sans', sans-serif").style("font-weight","bold").style("font-size","18px").attr("fill","#111")
  .text("JAN22");
svg.append("text").attr("x",479).attr("y",519).attr("text-anchor","middle")
  .style("font-family","'Open Sans', sans-serif").style("font-weight","bold").style("font-size","18px").attr("fill","#111")
  .text("# DIAS ÚTEIS");
svg.append("text").attr("transform","translate(26,262) rotate(-90)").attr("text-anchor","middle")
  .style("font-family","'Open Sans', sans-serif").style("font-weight","bold").style("font-size","18px").attr("fill","#111")
  .text("PREÇO (BPS)");
</script>
</body></html>
